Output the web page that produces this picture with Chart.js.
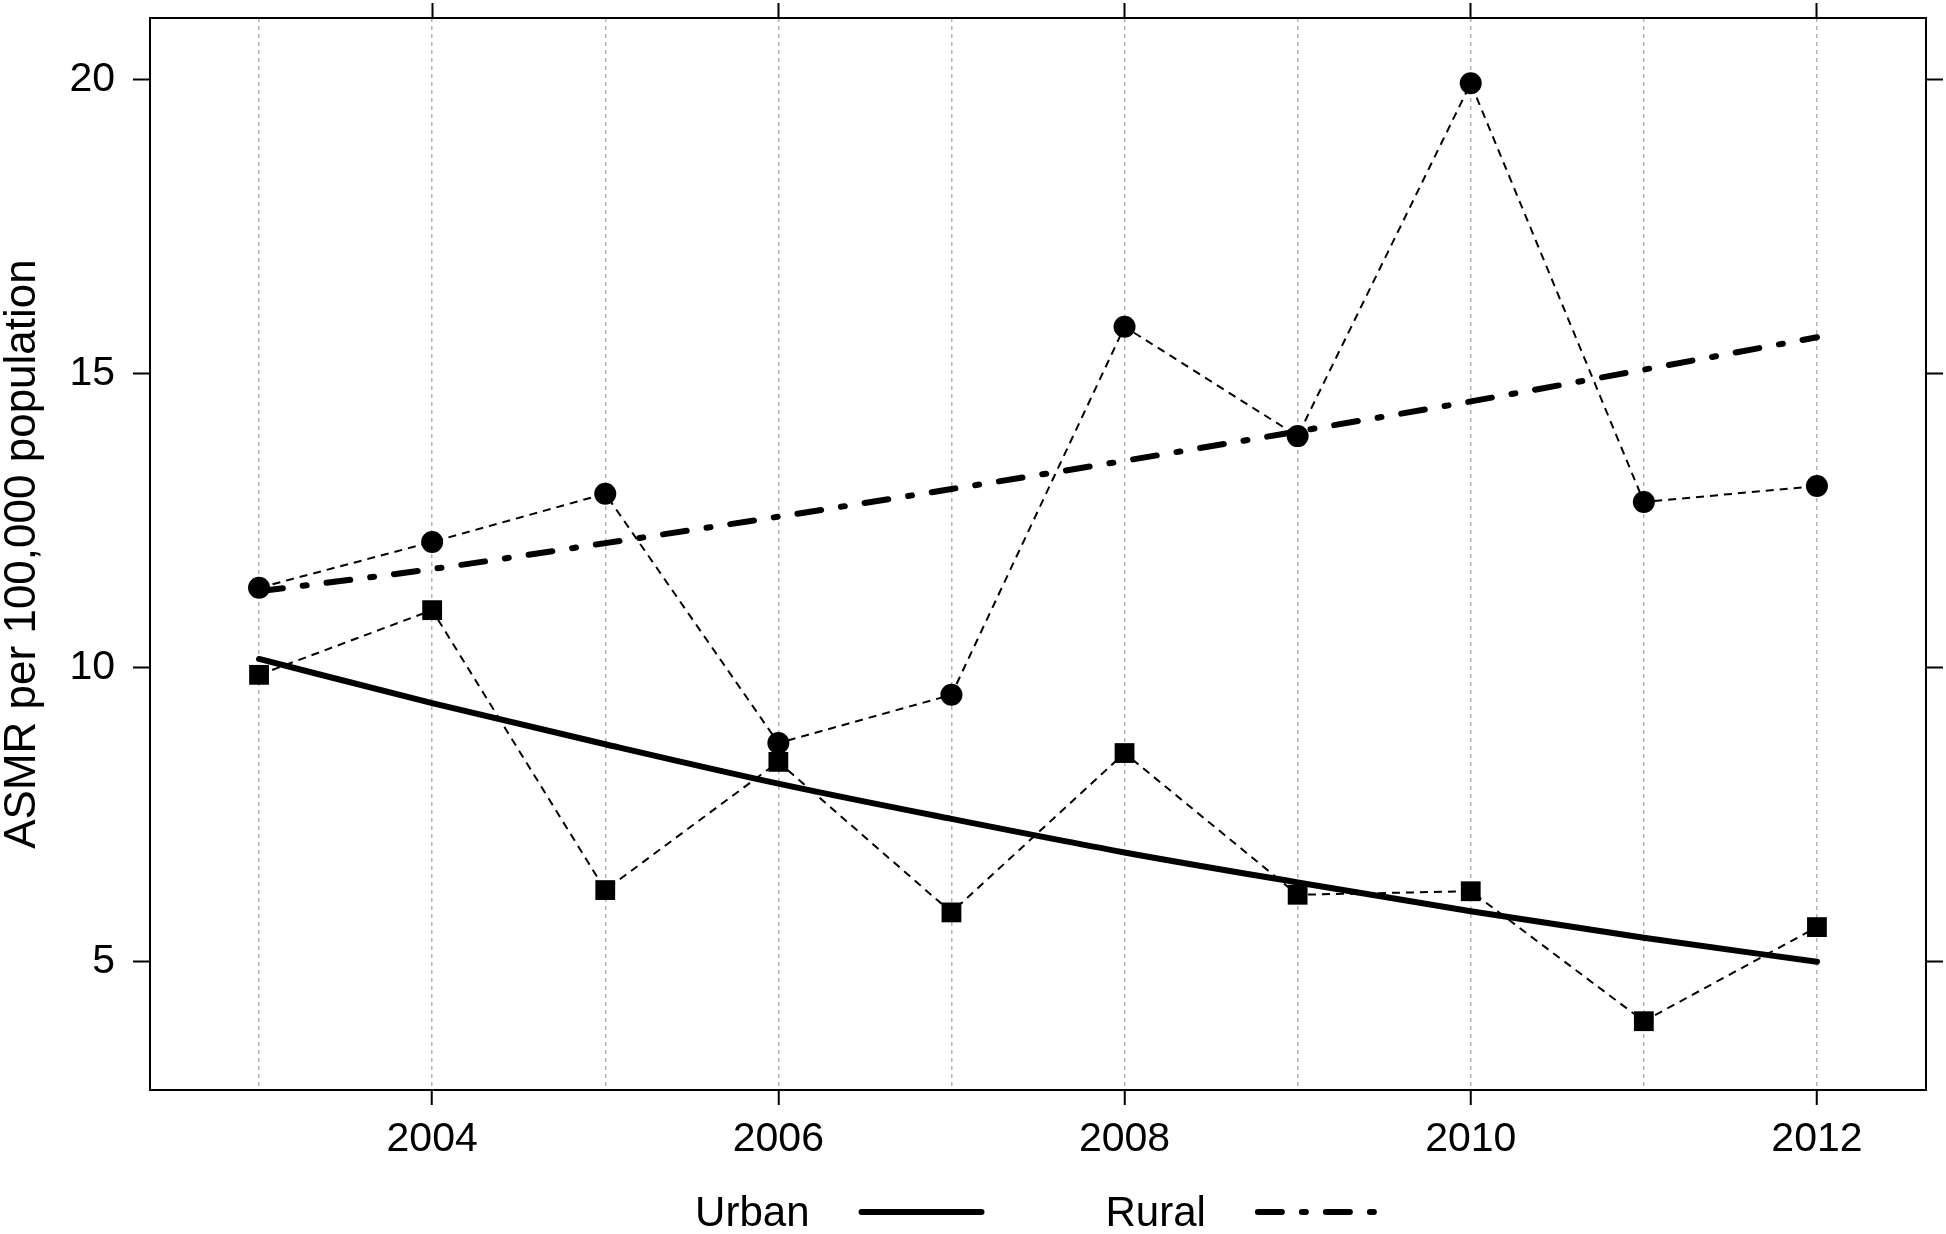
<!DOCTYPE html>
<html>
<head>
<meta charset="utf-8">
<script src="https://cdn.jsdelivr.net/npm/chart.js@4.4.1/dist/chart.umd.min.js"></script>
<style>
  html, body { margin: 0; padding: 0; background: #fff; }
  canvas { display: block; }
</style>
</head>
<body>
<canvas id="asmrChart" width="1946" height="1234"></canvas>
<script>
const years = [2003, 2004, 2005, 2006, 2007, 2008, 2009, 2010, 2011, 2012];
const labelYears = [2004, 2006, 2008, 2010, 2012];
const yTicks = [5, 10, 15, 20];

// observed rates (dashed lines with markers)
const ruralObserved = [11.36, 12.14, 12.96, 8.72, 9.54, 15.80, 13.94, 19.94, 12.82, 13.09];
const urbanObserved = [9.88, 10.98, 6.22, 8.40, 5.84, 8.55, 6.14, 6.20, 3.99, 5.59];

// fitted trends (thick lines)
const urbanTrend = [10.15, 9.40, 8.70, 8.03, 7.43, 6.86, 6.35, 5.86, 5.41, 5.00];
const ruralTrend = [11.30, 11.68, 12.12, 12.57, 13.04, 13.52, 14.02, 14.53, 15.07, 15.62];

const FONT = "'Liberation Sans', Arial, sans-serif";
const ruralDash = [24, 20, 4, 20];

function pts(values) {
    return years.map((yr, i) => ({ x: yr, y: values[i] }));
}

// keep the plot box fixed, no extra room for edge labels
function fixSize(prop, size) {
    return s => {
        s[prop] = size;
        s.paddingTop = 0;
        s.paddingBottom = 0;
        s.paddingLeft = 0;
        s.paddingRight = 0;
    };
}

const legendItems = [
    { text: 'Urban', dash: [] },
    { text: 'Rural', dash: ruralDash }
];

const bottomLegend = {
    id: 'bottomLegend',
    afterDraw(chart) {
        const ctx = chart.ctx;
        const area = chart.chartArea;
        ctx.save();
        ctx.font = '42px ' + FONT;
        ctx.fillStyle = '#000';
        ctx.textBaseline = 'middle';
        ctx.textAlign = 'left';
        const lineW = 126, textGap = 49, itemGap = 121;
        const widths = legendItems.map(it => ctx.measureText(it.text).width);
        let total = 0;
        widths.forEach((w, i) => { total += w + textGap + lineW + (i < widths.length - 1 ? itemGap : 0); });
        let x = (area.left + area.right) / 2 - total / 2;
        const y = 1212;
        legendItems.forEach((it, i) => {
            ctx.fillText(it.text, x, y + 2);
            x += widths[i] + textGap;
            ctx.beginPath();
            ctx.lineWidth = 6;
            ctx.lineCap = 'round';
            ctx.strokeStyle = '#000';
            ctx.setLineDash(it.dash);
            ctx.moveTo(x + 3, y);
            ctx.lineTo(x + lineW - 3, y);
            ctx.stroke();
            ctx.setLineDash([]);
            x += lineW + itemGap;
        });
        ctx.restore();
    }
};

const ctx = document.getElementById('asmrChart').getContext('2d');

new Chart(ctx, {
    type: 'line',
    data: {
        datasets: [
            {
                label: 'Urban',
                data: pts(urbanTrend),
                borderColor: '#000',
                borderWidth: 6,
                borderCapStyle: 'round',
                cubicInterpolationMode: 'monotone',
                pointRadius: 0,
                fill: false
            },
            {
                label: 'Rural',
                data: pts(ruralTrend),
                borderColor: '#000',
                borderWidth: 6,
                borderDash: ruralDash,
                borderCapStyle: 'round',
                cubicInterpolationMode: 'monotone',
                pointRadius: 0,
                fill: false
            },
            {
                label: 'Rural observed',
                data: pts(ruralObserved),
                borderColor: '#000',
                borderWidth: 2,
                borderDash: [8, 6],
                pointStyle: 'circle',
                pointRadius: 11,
                pointBackgroundColor: '#000',
                pointBorderWidth: 0,
                tension: 0,
                fill: false
            },
            {
                label: 'Urban observed',
                data: pts(urbanObserved),
                borderColor: '#000',
                borderWidth: 2,
                borderDash: [8, 6],
                pointStyle: 'rect',
                pointRadius: 14,
                pointBackgroundColor: '#000',
                pointBorderWidth: 0,
                tension: 0,
                fill: false
            }
        ]
    },
    options: {
        responsive: false,
        animation: false,
        devicePixelRatio: 1,
        layout: { padding: 0 },
        plugins: {
            legend: { display: false },
            tooltip: { enabled: false }
        },
        scales: {
            x: {
                type: 'linear',
                position: 'bottom',
                min: 2002.37,
                max: 2012.63,
                afterBuildTicks: s => { s.ticks = years.map(v => ({ value: v })); },
                afterFit: fixSize('height', 144),
                ticks: {
                    autoSkip: false,
                    maxRotation: 0,
                    padding: 10,
                    color: '#000',
                    font: { family: FONT, size: 41 },
                    callback: v => (labelYears.includes(v) ? String(v) : '')
                },
                grid: {
                    color: '#b3b3b3',
                    lineWidth: 1.5,
                    tickLength: 15,
                    tickWidth: 2,
                    tickColor: c => (c.tick && labelYears.includes(c.tick.value) ? '#000' : 'rgba(0,0,0,0)')
                },
                border: { color: '#000', width: 2, dash: [4, 4] }
            },
            x2: {
                type: 'linear',
                position: 'top',
                min: 2002.37,
                max: 2012.63,
                afterBuildTicks: s => { s.ticks = labelYears.map(v => ({ value: v })); },
                afterFit: fixSize('height', 18),
                ticks: { display: false },
                grid: { drawOnChartArea: false, tickLength: 15, tickWidth: 2, tickColor: '#000' },
                border: { color: '#000', width: 2 }
            },
            y: {
                type: 'linear',
                position: 'left',
                min: 2.82,
                max: 21.05,
                afterBuildTicks: s => { s.ticks = yTicks.map(v => ({ value: v })); },
                afterFit: fixSize('width', 150),
                ticks: {
                    padding: 18,
                    color: '#000',
                    font: { family: FONT, size: 41 }
                },
                grid: { drawOnChartArea: false, tickLength: 17, tickWidth: 2, tickColor: '#000' },
                border: { color: '#000', width: 2 },
                title: {
                    display: true,
                    text: 'ASMR per 100,000 population',
                    color: '#000',
                    padding: 0,
                    font: { family: FONT, size: 44, lineHeight: 1.05 }
                }
            },
            y2: {
                type: 'linear',
                position: 'right',
                min: 2.82,
                max: 21.05,
                afterBuildTicks: s => { s.ticks = yTicks.map(v => ({ value: v })); },
                afterFit: fixSize('width', 20),
                ticks: { display: false },
                grid: { drawOnChartArea: false, tickLength: 17, tickWidth: 2, tickColor: '#000' },
                border: { color: '#000', width: 2 }
            }
        }
    },
    plugins: [bottomLegend]
});
</script>
</body>
</html>
